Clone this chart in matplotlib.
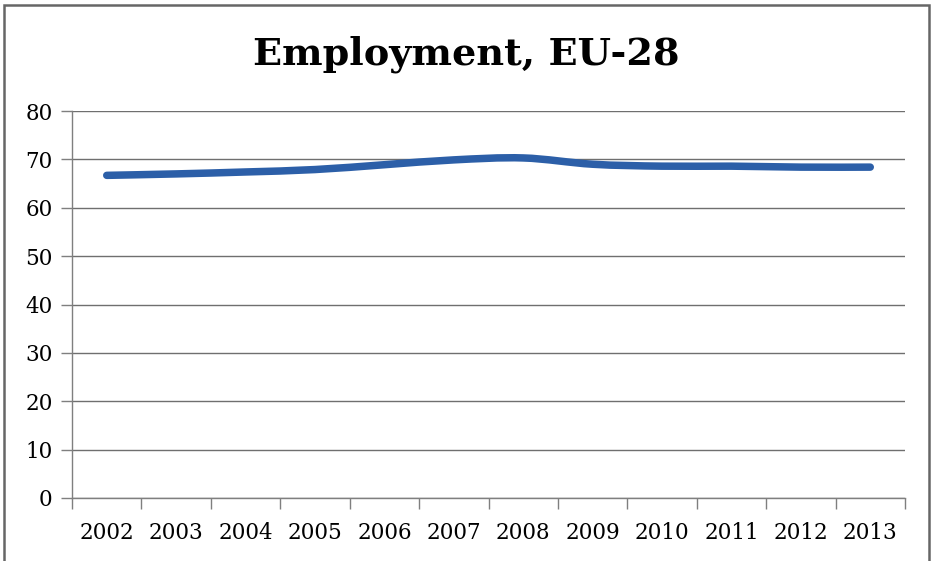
import numpy as np
import matplotlib.pyplot as plt
from matplotlib.path import Path
from matplotlib.patches import PathPatch, Rectangle
from matplotlib.ticker import FixedLocator

years = ['2002', '2003', '2004', '2005', '2006', '2007',
         '2008', '2009', '2010', '2011', '2012', '2013']
employment = [66.7, 67.0, 67.4, 67.9, 68.9, 69.9, 70.3, 69.0, 68.6, 68.6, 68.4, 68.4]

plt.rcParams['font.family'] = ['DejaVu Serif']

fig = plt.figure(figsize=(9.32, 5.61), dpi=100)
ax = fig.add_axes([0.0773, 0.1123, 0.8937, 0.6898])

x = np.arange(len(years))
y = np.array(employment)

# smoothed line: Catmull-Rom segments turned into cubic beziers
verts = [(x[0], y[0])]
codes = [Path.MOVETO]
for i in range(len(x) - 1):
    p0 = np.array([x[max(i - 1, 0)], y[max(i - 1, 0)]])
    p1 = np.array([x[i], y[i]])
    p2 = np.array([x[i + 1], y[i + 1]])
    p3 = np.array([x[min(i + 2, len(x) - 1)], y[min(i + 2, len(x) - 1)]])
    c1 = p1 + (p2 - p0) / 6
    c2 = p2 - (p3 - p1) / 6
    verts += [tuple(c1), tuple(c2), tuple(p2)]
    codes += [Path.CURVE4] * 3
line = PathPatch(Path(verts, codes), facecolor='none', edgecolor='#2C5FA8',
                 linewidth=5.4, capstyle='round', joinstyle='round', zorder=3)
ax.add_patch(line)

ax.set_xlim(-0.5, len(years) - 0.5)
ax.set_ylim(0, 80)
ax.set_yticks(range(0, 81, 10))
ax.yaxis.grid(True, color='#6f6f6f', linewidth=1.0)
ax.set_axisbelow(True)

ax.set_xticks(x)
ax.set_xticklabels(years)
ax.xaxis.set_minor_locator(FixedLocator(np.arange(-0.5, len(years), 1.0)))
ax.tick_params(axis='x', which='major', length=0, pad=17, labelsize=15.5)
ax.tick_params(axis='x', which='minor', length=8, width=1, color='#7f7f7f', direction='out')
ax.tick_params(axis='y', length=8, width=1, color='#7f7f7f', pad=6, labelsize=15.5)

for s in ['top', 'right']:
    ax.spines[s].set_visible(False)
for s in ['left', 'bottom']:
    ax.spines[s].set_color('#7f7f7f')
    ax.spines[s].set_linewidth(1)

fig.text(0.5, 0.903, 'Employment, EU-28', ha='center', va='center',
         fontsize=27.5, fontweight='bold')

# chart frame
fig.patches.append(Rectangle((0.0043, -0.05), 0.9925, 1.041, transform=fig.transFigure,
                             fill=False, edgecolor='#666666', linewidth=1.8))

fig.savefig('out.png', dpi=100)
